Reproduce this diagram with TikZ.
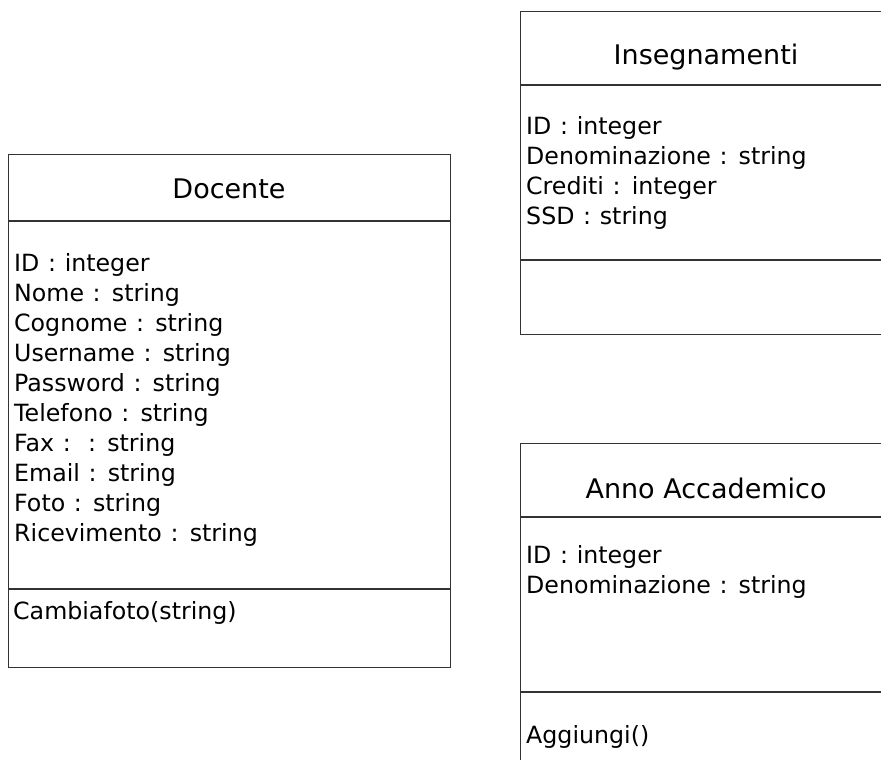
\documentclass[tikz,border=0pt]{standalone}
\usepackage{fontspec}
\setmainfont{DejaVu Sans}
\newfontfamily\attrfont[WordSpace=1.15]{DejaVu Sans}
\begin{document}
\begin{tikzpicture}[x=1pt,y=-1pt,
  classbox/.style={draw=black!80, line width=1.1pt, rectangle, anchor=north west, inner sep=0pt},
  classtitle/.style={font=\fontsize{27}{32}\selectfont, anchor=base, inner sep=0pt},
  attr/.style={font=\attrfont\fontsize{23.7}{30}\selectfont, anchor=base west, inner sep=0pt},
  divider/.style={draw=black!80, line width=1.1pt}
]
\useasboundingbox (0,0) rectangle (881,760);
\clip (0,0) rectangle (881,760);

% Docente
\node[classbox, minimum width=442pt, minimum height=513pt] (doc) at (8,154) {};
\draw[divider] ([yshift=-67pt]doc.north west) -- ([yshift=-67pt]doc.north east);
\draw[divider] ([yshift=-435pt]doc.north west) -- ([yshift=-435pt]doc.north east);
\node[classtitle] (docT) at (229,198.3) {Docente};
\foreach \t [count=\i from 0] in {ID : integer, Nome : string, Cognome : string,
  Username : string, Password : string, Telefono : string, Fax :\ \ : string,
  Email : string, Foto : string, Ricevimento : string}
  \node[attr] (docA\i) at (14,271+30*\i) {\t};
\node[attr] (docM) at (13,619.5) {Cambiafoto(string)};

% Insegnamenti
\node[classbox, minimum width=372pt, minimum height=322.6pt] (ins) at (520,11) {};
\draw[divider] ([yshift=-74pt]ins.north west) -- ([yshift=-74pt]ins.north east);
\draw[divider] ([yshift=-249pt]ins.north west) -- ([yshift=-249pt]ins.north east);
\node[classtitle] (insT) at (706,64) {Insegnamenti};
\foreach \t [count=\i from 0] in {ID : integer, Denominazione : string,
  Crediti : integer, SSD : string}
  \node[attr] (insA\i) at (526,134.5+30*\i) {\t};

% Anno Accademico
\node[classbox, minimum width=372pt, minimum height=340pt] (anno) at (520,443) {};
\draw[divider] ([yshift=-74pt]anno.north west) -- ([yshift=-74pt]anno.north east);
\draw[divider] ([yshift=-249pt]anno.north west) -- ([yshift=-249pt]anno.north east);
\node[classtitle] (annoT) at (706,498.3) {Anno Accademico};
\foreach \t [count=\i from 0] in {ID : integer, Denominazione : string}
  \node[attr] (annoA\i) at (526,563.5+30*\i) {\t};
\node[attr] (annoM) at (526,743.5) {Aggiungi()};
\end{tikzpicture}
\end{document}
